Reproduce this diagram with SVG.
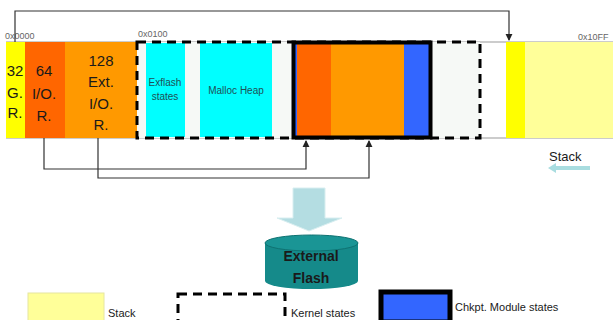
<svg xmlns="http://www.w3.org/2000/svg" width="613" height="320" viewBox="0 0 613 320">
  <style>
    .lbl { font-family: "Liberation Sans", Arial, sans-serif; fill: #1a1a1a; }
    .big { font-size: 15px; text-anchor: middle; }
    .seg { font-size: 10px; text-anchor: middle; fill: #1f4f55; }
    .addr { font-size: 9px; fill: #666; }
    .leg { font-size: 11px; }
    .wire { fill: none; stroke: #333; stroke-width: 1.2; }
    .dash { fill: none; stroke: #000; stroke-width: 3; stroke-dasharray: 9 6; }
  </style>
  <defs>
    <marker id="ah" viewBox="0 0 8 8" refX="7" refY="4" markerWidth="6" markerHeight="6" orient="auto">
      <path d="M0,0 L8,4 L0,8 z" fill="#222"/>
    </marker>
  </defs>
  <rect width="613" height="320" fill="#fff"/>

  <!-- memory bar outline -->
  <g id="bar-frame">
    <line x1="6" y1="42" x2="613" y2="42" stroke="#999" stroke-width="1"/>
    <line x1="6" y1="138" x2="613" y2="138" stroke="#999" stroke-width="1"/>
  </g>

  <!-- register areas -->
  <g id="gr32">
    <rect x="6" y="42" width="19" height="96" fill="#ffff00"/>
    <text class="lbl big" x="15" y="76">32</text>
    <text class="lbl big" x="15" y="98">G.</text>
    <text class="lbl big" x="15" y="118">R.</text>
  </g>
  <g id="io64">
    <rect x="25" y="42" width="40" height="96" fill="#ff6600"/>
    <text class="lbl big" x="44" y="76">64</text>
    <text class="lbl big" x="44" y="99">I/O.</text>
    <text class="lbl big" x="44" y="121">R.</text>
  </g>
  <g id="extio128">
    <rect x="65" y="42" width="72" height="96" fill="#ff9900"/>
    <text class="lbl big" x="101" y="66">128</text>
    <text class="lbl big" x="101" y="87">Ext.</text>
    <text class="lbl big" x="101" y="109">I/O.</text>
    <text class="lbl big" x="101" y="130">R.</text>
  </g>

  <!-- kernel states region -->
  <g id="kernel">
    <rect x="137" y="42" width="343" height="96" fill="#f6f9f6"/>
    <rect x="146" y="43" width="39" height="94" fill="#00ffff"/>
    <text class="lbl seg" x="165" y="86">Exflash</text>
    <text class="lbl seg" x="165" y="100">states</text>
    <rect x="200" y="43" width="72" height="94" fill="#00ffff"/>
    <text class="lbl seg" x="236" y="94">Malloc Heap</text>
    <rect x="137" y="42" width="343" height="96" class="dash"/>
  </g>

  <!-- checkpoint module states -->
  <g id="chkpt">
    <rect x="292" y="41" width="140" height="98" fill="#3366ff"/>
    <rect x="297" y="44" width="34" height="92" fill="#ff6600"/>
    <rect x="331" y="44" width="73" height="92" fill="#ff9900"/>
    <rect x="293.5" y="42.5" width="137" height="95" fill="none" stroke="#000" stroke-width="4"/>
  </g>

  <!-- stack area -->
  <g id="stack">
    <rect x="506" y="42" width="19" height="96" fill="#ffff00"/>
    <rect x="525" y="42" width="88" height="96" fill="#ffff99"/>
  </g>

  <!-- addresses -->
  <g id="addresses">
    <text class="lbl addr" x="5" y="39">0x0000</text>
    <text class="lbl addr" x="138" y="37">0x0100</text>
    <text class="lbl addr" x="578" y="40">0x10FF</text>
  </g>

  <!-- connectors -->
  <g id="connectors">
    <path class="wire" d="M15,42 V11 H509 V40" marker-end="url(#ah)"/>
    <path class="wire" d="M44,138 V169 H306 V141" marker-end="url(#ah)"/>
    <path class="wire" d="M98,138 V178 H369 V141" marker-end="url(#ah)"/>
  </g>

  <!-- stack direction -->
  <g id="stack-dir">
    <text class="lbl" x="549" y="161" font-size="13">Stack</text>
    <path d="M556,166 H590 V170 H556 V173 L548,168 L556,163 z" fill="#a9dde0"/>
  </g>

  <!-- flush arrow -->
  <g id="flush-arrow">
    <path d="M293,188 H325 V218 H342 L309,231 L277,218 H293 z" fill="#b4dde2" stroke="#d8eef0" stroke-width="1"/>
  </g>

  <!-- external flash -->
  <g id="ext-flash">
    <path d="M265,243 V281 A46.5,8 0 0 0 358,281 V243 z" fill="#158a8a"/>
    <ellipse cx="311.5" cy="243" rx="46.5" ry="8" fill="#1a9595" stroke="#0f7272" stroke-width="1"/>
    <text class="lbl" x="311" y="261" font-size="14" font-weight="bold" text-anchor="middle" fill="#0b2222">External</text>
    <text class="lbl" x="311" y="283" font-size="14" font-weight="bold" text-anchor="middle" fill="#0b2222">Flash</text>
  </g>

  <!-- legend -->
  <g id="legend-stack">
    <rect x="28" y="293" width="76" height="30" fill="#ffff99" stroke="#e6e6a0" stroke-width="1"/>
    <text class="lbl leg" x="108" y="317">Stack</text>
  </g>
  <g id="legend-kernel">
    <rect x="178" y="294" width="107" height="30" fill="#f6f9f6" class="dash"/>
    <text class="lbl leg" x="291" y="317">Kernel states</text>
  </g>
  <g id="legend-chkpt">
    <rect x="381" y="292" width="69" height="30" fill="#3366ff" stroke="#000" stroke-width="5"/>
    <text class="lbl leg" x="455" y="311">Chkpt. Module states</text>
  </g>
</svg>
